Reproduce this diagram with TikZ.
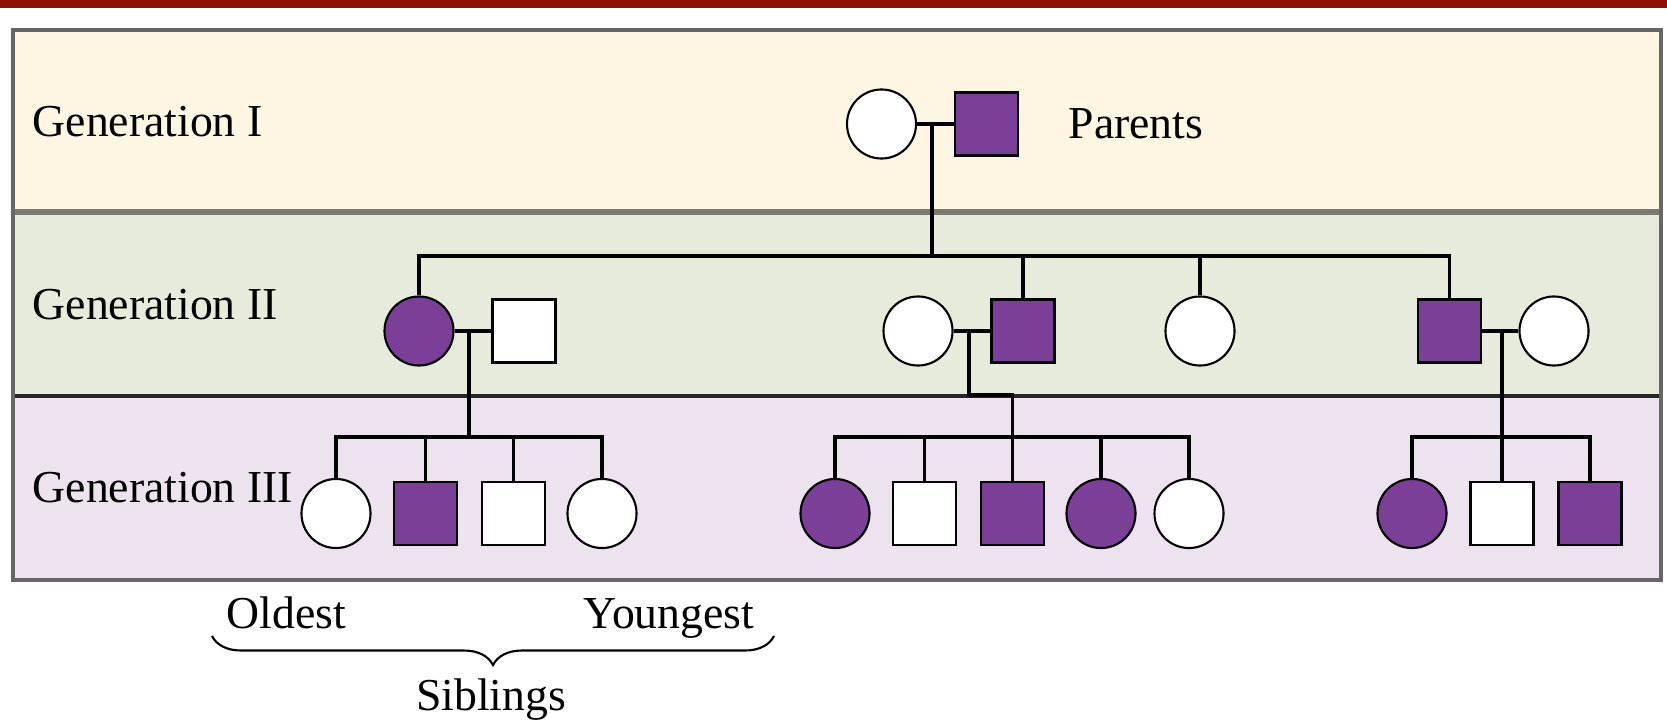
\documentclass[tikz,border=0pt]{standalone}
\usepackage{fontspec}
\setmainfont{Liberation Serif}
\usetikzlibrary{decorations.pathreplacing}
\definecolor{purp}{HTML}{7B3F98}
\definecolor{barred}{HTML}{8C1000}
\definecolor{genone}{HTML}{FDF6E2}
\definecolor{gentwo}{HTML}{E7EBDB}
\definecolor{genthree}{HTML}{EDE3EE}
\definecolor{rule}{HTML}{7A7A72}

\begin{document}
\begin{tikzpicture}[x=0.01cm,y=-0.01cm]
\tikzstyle{female}=[circle,draw=black,line width=0.6pt,fill=white,minimum size=0.69cm,inner sep=0pt]
\tikzstyle{male}=[rectangle,draw=black,line width=0.6pt,fill=white,minimum size=0.63cm,inner sep=0pt]
\tikzstyle{aff}=[fill=purp]
\tikzstyle{link}=[line width=0.9pt]
\tikzstyle{lbl}=[anchor=base west,inner sep=0pt,font=\fontsize{13}{15}\selectfont]
\useasboundingbox (0,0) rectangle (1667,721);

% Bandeau et fond
\fill[barred] (0,0) rectangle (1667,8);
\fill[genone] (13,30) rectangle (1661,212);
\fill[gentwo] (13,212) rectangle (1661,396);
\fill[genthree] (13,396) rectangle (1661,580);
\draw[rule,line width=1.6pt] (13,212) -- (1661,212);
\draw[black!85,line width=1pt] (13,396) -- (1661,396);
\draw[black!60,line width=1.1pt] (13,30) rectangle (1661,580);

\node[lbl] (G1) at (32,136) {Generation I};
\node[lbl] (G2) at (32,319) {Generation II};
\node[lbl] (G3) at (32,502) {Generation III};

% Generation I
\node[female] (I1) at (881.5,124) {};
\node[male,aff] (I2) at (986.5,124) {};
\node[lbl] (P) at (1068,138) {Parents};
\coordinate (m1) at (932,124);
\coordinate (s1) at (932,256);
 \draw[link] (I1) -- (I2);
 \draw[link] (m1) -- (s1);

% Generation II
\node[female,aff] (II1) at (419,331) {};
\node[male] (II2) at (524,331) {};
\node[female] (II3) at (918,331) {};
\node[male,aff] (II4) at (1023,331) {};
\node[female] (II5) at (1200,331) {};
\node[male,aff] (II6) at (1449.5,331) {};
\node[female] (II7) at (1554,331) {};
 \draw[link] (II1.north) |- (s1) -| (II6.north);
 \draw[link] (II4.north) -- (II4.north |- s1);
 \draw[link] (II5.north) -- (II5.north |- s1);

\coordinate (m2) at (469,331);
\coordinate (s2) at (469,437);
\coordinate (m3) at (969,331);
\coordinate (k3) at (969,395);
\coordinate (s3) at (1012.5,437);
\coordinate (m4) at (1502,331);
\coordinate (s4) at (1502,437);
 \draw[link] (II1) -- (II2);
 \draw[link] (m2) -- (s2);
 \draw[link] (II3) -- (II4);
 \draw[link] (II6) -- (II7);

% Generation III
\node[female] (III1) at (336,513.5) {};
\node[male,aff] (III2) at (425.5,513.5) {};
\node[male] (III3) at (513.5,513.5) {};
\node[female] (III4) at (602,513.5) {};
 \draw[link] (III1.north) |- (s2) -| (III4.north);
 \draw[link] (III2.north) -- (III2.north |- s2);
 \draw[link] (III3.north) -- (III3.north |- s2);

\node[female,aff] (III5) at (835,513.5) {};
\node[male] (III6) at (924.5,513.5) {};
\node[male,aff] (III7) at (1012.5,513.5) {};
\node[female,aff] (III8) at (1101,513.5) {};
\node[female] (III9) at (1189,513.5) {};
 \draw[link] (m3) -- (k3) -| (III7.north);
 \draw[link] (III5.north) |- (s3) -| (III9.north);
 \draw[link] (III6.north) -- (III6.north |- s3);
 \draw[link] (III8.north) -- (III8.north |- s3);

\node[female,aff] (III10) at (1412,513.5) {};
\node[male] (III11) at (1502,513.5) {};
\node[male,aff] (III12) at (1590,513.5) {};
 \draw[link] (m4) -- (III11.north);
 \draw[link] (III10.north) |- (s4) -| (III12.north);

% Fratrie
\coordinate (bl) at (212,636);
\coordinate (br) at (774,636);
\node[lbl] (O) at (226,628) {Oldest};
\node[lbl,anchor=base east] (Y) at (755,628) {Youngest};
 \draw[line width=0.6pt,decorate,decoration={brace,mirror,amplitude=0.29cm}] (bl) -- (br);
\node[lbl,anchor=base] (S) at (491,710) {Siblings};

\end{tikzpicture}
\end{document}
